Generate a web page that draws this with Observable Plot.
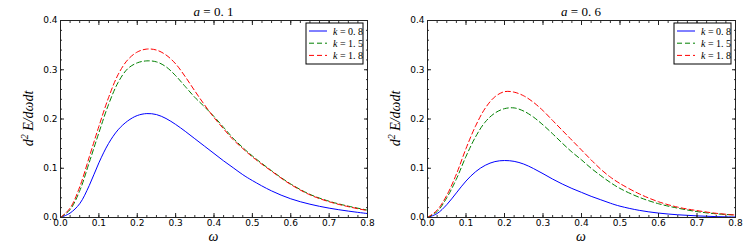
<!DOCTYPE html>
<html><head><meta charset="utf-8">
<script src="https://cdn.jsdelivr.net/npm/d3@7"></script>
<script src="https://cdn.jsdelivr.net/npm/@observablehq/plot@0.6"></script>
<style>
body{margin:0;background:#fff;}
#wrap{display:flex;width:750px;height:250px;}
#wrap svg{display:block;}
</style></head><body><div id="wrap"></div>
<script>
// ω grid
const omega = [0, 0.025, 0.05, 0.075, 0.1, 0.125, 0.15, 0.175, 0.2, 0.225, 0.25, 0.275, 0.3, 0.325, 0.35, 0.375, 0.4, 0.425, 0.45, 0.475, 0.5, 0.55, 0.6, 0.65, 0.7, 0.75, 0.8];
// a = 0.1
const a01_k08 = [0, 0.009, 0.028, 0.065, 0.111, 0.150, 0.178, 0.196, 0.207, 0.211, 0.209, 0.201, 0.189, 0.175, 0.160, 0.145, 0.130, 0.115, 0.101, 0.087, 0.075, 0.054, 0.038, 0.027, 0.019, 0.013, 0.008];
const a01_k15 = [0, 0.016, 0.054, 0.112, 0.172, 0.229, 0.274, 0.302, 0.314, 0.318, 0.316, 0.306, 0.288, 0.266, 0.244, 0.225, 0.205, 0.183, 0.161, 0.142, 0.125, 0.095, 0.068, 0.047, 0.033, 0.023, 0.015];
const a01_k18 = [0, 0.019, 0.062, 0.123, 0.185, 0.243, 0.290, 0.320, 0.336, 0.342, 0.340, 0.330, 0.312, 0.286, 0.257, 0.229, 0.203, 0.180, 0.158, 0.140, 0.123, 0.094, 0.067, 0.046, 0.032, 0.022, 0.014];
// a = 0.6
const a06_k08 = [0, 0.008, 0.026, 0.050, 0.074, 0.093, 0.106, 0.1135, 0.1157, 0.114, 0.1085, 0.0995, 0.089, 0.078, 0.068, 0.059, 0.051, 0.043, 0.036, 0.029, 0.023, 0.0145, 0.009, 0.0055, 0.0033, 0.0018, 0.001];
const a06_k15 = [0, 0.012, 0.040, 0.078, 0.124, 0.164, 0.194, 0.212, 0.221, 0.2225, 0.216, 0.204, 0.188, 0.170, 0.151, 0.133, 0.117, 0.100, 0.085, 0.071, 0.059, 0.041, 0.028, 0.019, 0.012, 0.0075, 0.005];
const a06_k18 = [0, 0.015, 0.045, 0.088, 0.140, 0.186, 0.222, 0.245, 0.2555, 0.2545, 0.247, 0.234, 0.217, 0.197, 0.177, 0.157, 0.137, 0.117, 0.098, 0.082, 0.069, 0.048, 0.032, 0.021, 0.014, 0.0085, 0.005];

const kValues = ["0.8", "1.5", "1.8"];
const aValues = ["0.1", "0.6"];
const xTicks = [0, 0.1, 0.2, 0.3, 0.4, 0.5, 0.6, 0.7, 0.8];
const yTicks = [0, 0.1, 0.2, 0.3, 0.4];
const xMinor = d3.range(0, 0.8001, 0.025);
const yMinor = d3.range(0, 0.4001, 0.02);

const colors = ["#0000ff", "#008000", "#ff0000"];
const dashes = [null, "5,3", "5,3"];
const mathFont = "Liberation Serif";
const tickFont = "DejaVu Sans";

const panels = [
  {a: aValues[0], series: [a01_k08, a01_k15, a01_k18], ml: 60, mr: 8},
  {a: aValues[1], series: [a06_k08, a06_k15, a06_k18], ml: 52, mr: 15}
];

function decorations(a) {
  return (index, scales, values, dims) => {
    const {width, height, marginLeft, marginRight, marginTop, marginBottom} = dims;
    const g = d3.create("svg:g");
    const cx = (marginLeft + width - marginRight) / 2;
    const cy = (marginTop + height - marginBottom) / 2;
    // title
    const t = g.append("text").attr("x", cx).attr("y", 16).attr("text-anchor", "middle")
      .attr("font-family", mathFont).attr("font-size", 13);
    t.append("tspan").attr("font-style", "italic").text("a");
    t.append("tspan").text(" = " + a.replace(".", ". "));
    // x label
    g.append("text").attr("x", cx).attr("y", 241).attr("text-anchor", "middle")
      .attr("font-family", mathFont).attr("font-style", "italic").attr("font-size", 14).text("ω");
    // y label
    const yl = g.append("text").attr("transform", `translate(${marginLeft - 27},${cy}) rotate(-90)`)
      .attr("text-anchor", "middle").attr("font-family", mathFont).attr("font-style", "italic").attr("font-size", 14);
    yl.append("tspan").text("d");
    yl.append("tspan").attr("font-size", 10).attr("dy", -5).text("2");
    yl.append("tspan").attr("dy", 5).text(" E/dωdt");
    // legend
    const w = 57, h = 41;
    const x0 = width - marginRight - 4 - w, y0 = marginTop + 3;
    g.append("rect").attr("x", x0).attr("y", y0).attr("width", w).attr("height", h)
      .attr("fill", "#fff").attr("stroke", "#000").attr("stroke-width", 1);
    kValues.forEach((k, i) => {
      const yy = y0 + 8 + i * 12.2;
      const ln = g.append("line").attr("x1", x0 + 3).attr("x2", x0 + 21).attr("y1", yy).attr("y2", yy)
        .attr("stroke", colors[i]).attr("stroke-width", 1);
      if (dashes[i]) ln.attr("stroke-dasharray", dashes[i]);
      const tx = g.append("text").attr("x", x0 + 27).attr("y", yy + 3.5).attr("text-anchor", "start")
        .attr("font-family", mathFont).attr("font-size", 10);
      tx.append("tspan").attr("font-style", "italic").text("k");
      tx.append("tspan").text(" = " + k.replace(".", ". "));
    });
    return g.node();
  };
}

const fmt = d3.format(".1f");
const blank = () => "";

panels.forEach(p => {
  const lines = p.series.map((vals, i) => {
    const rows = omega.map((w, j) => ({omega: w, value: vals[j]}));
    return Plot.line(rows, {x: "omega", y: "value", stroke: colors[i], strokeWidth: 1,
      strokeDasharray: dashes[i] || undefined, curve: "catmull-rom"});
  });
  const chart = Plot.plot({
    width: 375, height: 250,
    marginLeft: p.ml, marginRight: p.mr, marginTop: 20, marginBottom: 33,
    x: {domain: [0, 0.8]},
    y: {domain: [0, 0.4]},
    style: {background: "#fff", overflow: "visible"},
    marks: [
      ...lines,
      // minor ticks (inward)
      Plot.axisX({anchor: "bottom", ticks: xMinor, tickSize: 2, dy: -2, tickFormat: blank, label: null, stroke: "#333"}),
      Plot.axisX({anchor: "top", ticks: xMinor, tickSize: 2, dy: 2, tickFormat: blank, label: null, stroke: "#333"}),
      Plot.axisY({anchor: "left", ticks: yMinor, tickSize: 2, dx: 2, tickFormat: blank, label: null, stroke: "#333"}),
      Plot.axisY({anchor: "right", ticks: yMinor, tickSize: 2, dx: -2, tickFormat: blank, label: null, stroke: "#333"}),
      // major ticks (inward)
      Plot.axisX({anchor: "bottom", ticks: xTicks, tickSize: 4, dy: -4, tickFormat: blank, label: null, stroke: "#222"}),
      Plot.axisX({anchor: "top", ticks: xTicks, tickSize: 4, dy: 4, tickFormat: blank, label: null, stroke: "#222"}),
      Plot.axisY({anchor: "left", ticks: yTicks, tickSize: 4, dx: 4, tickFormat: blank, label: null, stroke: "#222"}),
      Plot.axisY({anchor: "right", ticks: yTicks, tickSize: 4, dx: -4, tickFormat: blank, label: null, stroke: "#222"}),
      // tick labels
      Plot.axisX({anchor: "bottom", ticks: xTicks, tickSize: 0, tickPadding: 2, tickFormat: fmt, label: null,
        fontSize: 9, fontFamily: tickFont, fill: "#000"}),
      Plot.axisY({anchor: "left", ticks: yTicks, tickSize: 0, tickPadding: 3, tickFormat: fmt, label: null,
        fontSize: 9, fontFamily: tickFont, fill: "#000"}),
      Plot.frame({stroke: "#222", strokeWidth: 1}),
      decorations(p.a)
    ]
  });
  document.getElementById("wrap").appendChild(chart);
});
</script>
</body></html>
